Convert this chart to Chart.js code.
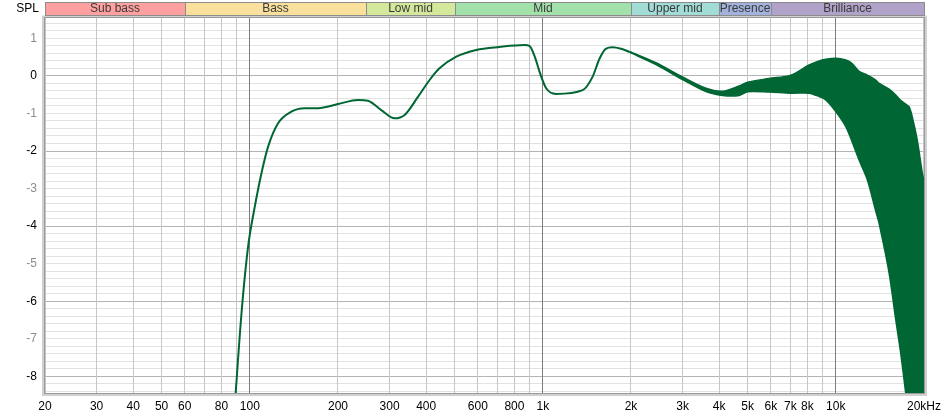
<!DOCTYPE html>
<html>
<head>
<meta charset="utf-8">
<script src="https://cdn.jsdelivr.net/npm/chart.js@4/dist/chart.umd.min.js"></script>
<style>
  html, body { margin: 0; padding: 0; background: #fff; }
  #wrap { width: 947px; height: 419px; }
</style>
</head>
<body>
<div id="wrap"><canvas id="spl" width="947" height="419"></canvas></div>
<script>
// main response curve (Hz, dB)
const mainFreq = [89, 93.7, 98.7, 104, 109.6, 115.4, 124.9, 138.7, 153.9, 171, 200, 234, 253, 281, 312, 337.6, 374.8, 410.8, 444, 506.6, 592.6, 711, 865.6, 900, 940, 974, 1027, 1110, 1368, 1480, 1560, 1640, 1731, 1850, 1974];
const mainSpl  = [-8.7, -6.31, -4.54, -3.48, -2.59, -1.89, -1.26, -0.95, -0.86, -0.86, -0.75, -0.64, -0.66, -0.91, -1.13, -1.04, -0.56, -0.11, 0.2, 0.51, 0.69, 0.77, 0.82, 0.8, 0.5, 0.12, -0.33, -0.48, -0.38, -0.02, 0.45, 0.72, 0.76, 0.72, 0.64];

// high frequency part: the trace spreads into a band (upper / lower envelope)
const bandFreq  = [1974, 2434, 3000, 3606, 4108, 4682, 4998, 5922, 7024, 8110, 8770, 9244, 10000, 10816, 11366, 12010, 12820, 13688, 14050, 15200, 16020, 16650, 17320, 17780, 18240, 18970, 19740, 20000];
const bandUpper = [0.65, 0.35, -0.03, -0.33, -0.41, -0.27, -0.17, -0.07, 0.02, 0.29, 0.40, 0.44, 0.47, 0.42, 0.33, 0.12, 0.02, -0.11, -0.2, -0.35, -0.51, -0.65, -0.75, -0.82, -1.09, -1.71, -2.59, -2.8];
const bandLower = [0.63, 0.30, -0.10, -0.42, -0.52, -0.52, -0.42, -0.43, -0.46, -0.46, -0.55, -0.64, -0.95, -1.35, -1.75, -2.24, -2.77, -3.6, -3.92, -5.24, -6.49, -7.37, -8.44, -9.2, -9.2, -9.2, -9.2, -9.2];

// frequency ranges shown in the top strip
const rangeNames  = ['Sub bass', 'Bass', 'Low mid', 'Mid', 'Upper mid', 'Presence', 'Brilliance'];
const rangeEdges  = [20, 60, 250, 500, 2000, 4000, 6000, 20000];
const rangeColors = ['#ffa0a0', '#f9e09c', '#d4e89c', '#a2e2aa', '#a2dcd6', '#a2b2dc', '#b0a2c8'];

// axis ticks
const xGrid = [20, 30, 40, 50, 60, 70, 80, 90, 100, 200, 300, 400, 500, 600, 700, 800, 900,
               1000, 2000, 3000, 4000, 5000, 6000, 7000, 8000, 9000, 10000, 20000];
const xLabels = {20: '20', 30: '30', 40: '40', 50: '50', 60: '60', 80: '80', 100: '100',
                 200: '200', 300: '300', 400: '400', 600: '600', 800: '800', 1000: '1k',
                 2000: '2k', 3000: '3k', 4000: '4k', 5000: '5k', 6000: '6k', 7000: '7k',
                 8000: '8k', 10000: '10k', 20000: '20kHz'};
const yMin = -8.44, yMax = 1.54, yStep = 0.2;

const green = '#006633';
const pts = (xs, ys) => xs.map((x, i) => ({x: x, y: ys[i]}));

const frame = {
  id: 'frame',
  beforeDatasetsDraw(chart) {
    const {ctx, chartArea: a} = chart;
    ctx.save();
    // shadow + border round the plot
    ctx.strokeStyle = '#d0d0d0';
    ctx.lineWidth = 2;
    ctx.strokeRect(a.left - 2, a.top - 1.5, a.right - a.left + 4, a.bottom - a.top + 3.5);
    ctx.strokeStyle = '#9a9a9a';
    ctx.lineWidth = 1;
    ctx.strokeRect(a.left - 0.5, a.top - 0.5, a.right - a.left + 1, a.bottom - a.top + 1);
    ctx.restore();
  },
  afterDraw(chart) {
    const {ctx} = chart;
    const xs = chart.scales.x;
    ctx.save();
    ctx.font = '12px "Liberation Sans", Arial, sans-serif';
    ctx.textBaseline = 'middle';
    // SPL label
    ctx.fillStyle = '#000';
    ctx.textAlign = 'right';
    ctx.fillText('SPL', 39, 9);
    // range strip
    for (let i = 0; i < rangeNames.length; i++) {
      const x0 = Math.round(xs.getPixelForValue(rangeEdges[i]));
      const x1 = Math.round(xs.getPixelForValue(rangeEdges[i + 1]));
      ctx.fillStyle = rangeColors[i];
      ctx.fillRect(x0, 3, x1 - x0, 12);
      ctx.strokeStyle = '#8c8c8c';
      ctx.lineWidth = 1;
      ctx.strokeRect(x0 + 0.5, 2.5, x1 - x0, 13);
      ctx.save();
      ctx.beginPath();
      ctx.rect(x0 + 1, 3, x1 - x0 - 1, 12);
      ctx.clip();
      ctx.fillStyle = '#3a3a3a';
      ctx.textAlign = 'center';
      ctx.fillText(rangeNames[i], (x0 + x1) / 2, 9);
      ctx.restore();
    }
    ctx.restore();
  }
};

new Chart(document.getElementById('spl'), {
  type: 'line',
  data: {
    datasets: [
      {
        label: 'SPL',
        data: pts(mainFreq, mainSpl),
        borderColor: green,
        borderWidth: 2,
        pointRadius: 0,
        cubicInterpolationMode: 'monotone',
        fill: false
      },
      {
        label: 'upper',
        data: pts(bandFreq, bandUpper),
        borderColor: green,
        borderWidth: 1.5,
        pointRadius: 0,
        tension: 0.3,
        fill: false
      },
      {
        label: 'lower',
        data: pts(bandFreq, bandLower),
        borderColor: green,
        backgroundColor: green,
        borderWidth: 1.5,
        pointRadius: 0,
        tension: 0.3,
        fill: '-1'
      }
    ]
  },
  options: {
    responsive: false,
    animation: false,
    events: [],
    layout: { padding: { left: 0, top: 18, right: 22, bottom: 0 } },
    plugins: { legend: { display: false }, tooltip: { enabled: false } },
    scales: {
      x: {
        type: 'logarithmic',
        min: 20,
        max: 20000,
        afterFit: s => { s.height = 26; },
        afterBuildTicks: s => { s.ticks = xGrid.map(v => ({value: v})); },
        border: { display: false },
        grid: {
          z: -1,
          drawTicks: false,
          lineWidth: 1,
          color: c => (c.tick && [100, 1000, 10000].includes(c.tick.value)) ? '#7c7c7c' : '#c6c6c6'
        },
        ticks: {
          autoSkip: false,
          maxRotation: 0,
          padding: 6,
          color: '#000',
          font: { family: '"Liberation Sans", Arial, sans-serif', size: 12 },
          callback: v => xLabels[v] || ''
        }
      },
      y: {
        min: yMin,
        max: yMax,
        afterFit: s => { s.width = 45; },
        afterBuildTicks: s => {
          const t = [];
          for (let k = Math.ceil(yMin / yStep); k * yStep <= yMax; k++) t.push({value: +(k * yStep).toFixed(1)});
          s.ticks = t;
        },
        border: { display: false },
        grid: {
          z: -2,
          drawTicks: false,
          color: c => {
            const v = c.tick ? c.tick.value : 0.5;
            return (Math.abs(v - Math.round(v)) < 1e-6 && Math.round(v) % 2 === 0) ? '#b4b4b4' : '#e2e2e2';
          }
        },
        ticks: {
          autoSkip: false,
          padding: 8,
          font: { family: '"Liberation Sans", Arial, sans-serif', size: 12 },
          color: c => {
            const v = Math.round(c.tick.value);
            return v % 2 === 0 ? '#000' : '#8c8c8c';
          },
          callback: v => Math.abs(v - Math.round(v)) < 1e-6 ? String(Math.round(v)) : ''
        }
      }
    }
  },
  plugins: [frame]
});
</script>
</body>
</html>
